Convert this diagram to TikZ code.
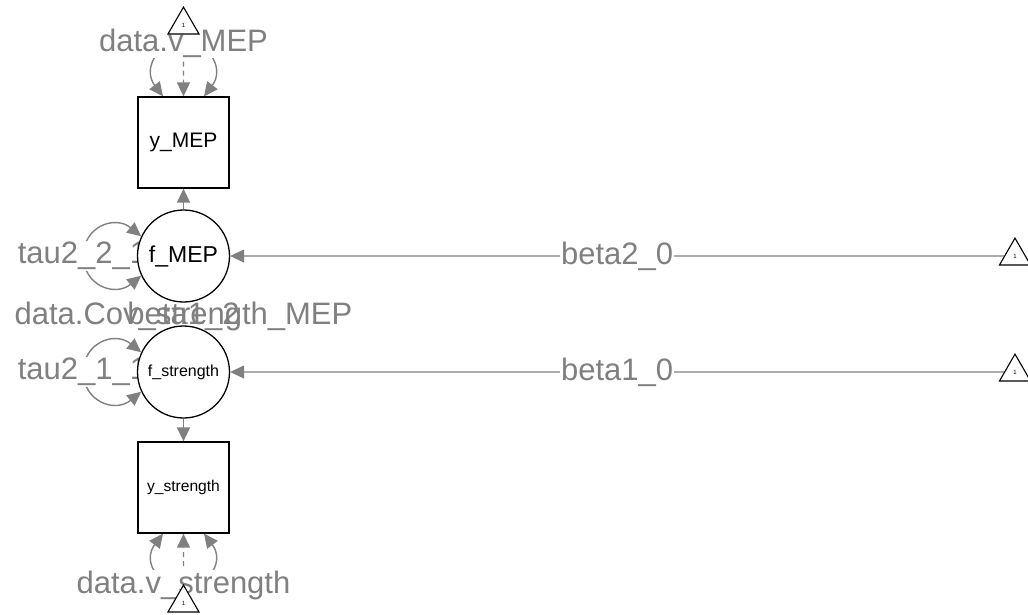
\documentclass[tikz,border=0pt]{standalone}
\usepackage{fontspec}
\setmainfont{Liberation Sans}
\usetikzlibrary{arrows.meta,shapes.geometric}
\definecolor{edgegray}{HTML}{808080}
\pgfdeclarelayer{edgelayer}
\pgfdeclarelayer{labellayer}
\pgfsetlayers{edgelayer,labellayer,main}
\begin{document}
\begin{tikzpicture}[x=1pt,y=-1pt,
  edge/.style={draw=edgegray, line width=1.4pt, -{Triangle[length=14pt,width=13pt]}},
  biedge/.style={draw=edgegray, line width=1.4pt, {Triangle[length=14pt,width=13pt]}-{Triangle[length=14pt,width=13pt]}},
  dashededge/.style={edge, dash pattern=on 5pt off 4pt},
  elabel/.style={fill=white, text=edgegray, font=\fontsize{31}{31}\selectfont, inner sep=1pt},
  manifest/.style={draw, line width=1.3pt, fill=white, minimum size=91pt, inner sep=0pt},
  latent/.style={circle, draw, line width=1.3pt, fill=white, minimum size=92pt, inner sep=0pt},
  intercept/.style={regular polygon, regular polygon sides=3, draw, line width=1.1pt, fill=white, minimum size=35.8pt, inner sep=0pt, font=\fontsize{6}{6}\selectfont}
]
\useasboundingbox (0,0) rectangle (1028,614);

% nodes
\node[manifest, font=\fontsize{21}{21}\selectfont] (yMEP) at (183.5,142.5) {y\_MEP};
\node[latent, font=\fontsize{23}{23}\selectfont] (fMEP) at (183.5,256) {f\_MEP};
\node[latent, font=\fontsize{16}{16}\selectfont] (fStr) at (183.5,372) {f\_strength};
\node[manifest, font=\fontsize{15.6}{15.6}\selectfont] (yStr) at (183.5,487.5) {y\_strength};
\node[intercept] (tTop) at (183.5,25) {1};
\node[intercept] (tBot) at (183.5,603) {1};
\node[intercept] (T2) at (1015,256) {1};
\node[intercept] (T1) at (1015,372) {1};

% edges
\begin{pgfonlayer}{edgelayer}
\draw[edge] (fMEP) -- (yMEP);
\draw[edge] (fStr) -- (yStr);
\draw[edge] (T2) -- (fMEP);
\draw[edge] (T1) -- (fStr);
\draw[dashededge] (tTop) -- (yMEP);
\draw[dashededge] (tBot) -- (yStr);
\draw[draw=edgegray, line width=1.4pt] (fMEP) -- (fStr);
\draw[biedge] ([xshift=-20.5pt]yMEP.north) .. controls (143,70) and (155,43) .. (183.5,43)
  .. controls (212,43) and (224,70) .. ([xshift=20.5pt]yMEP.north);
\draw[biedge] ([xshift=-20.5pt]yStr.south) .. controls (143,560) and (155,585) .. (183.5,585)
  .. controls (212,585) and (224,560) .. ([xshift=20.5pt]yStr.south);
\draw[biedge] (fMEP.155) .. controls (115,215) and (84,226) .. (83,256)
  .. controls (84,286) and (115,297) .. (fMEP.205);
\draw[biedge] (fStr.155) .. controls (115,331) and (84,342) .. (83,372)
  .. controls (84,402) and (115,413) .. (fStr.205);
\end{pgfonlayer}

% labels
\begin{pgfonlayer}{labellayer}
\path (T2) -- (fMEP) node[midway, elabel] (lb20) {beta2\_0};
\path (T1) -- (fStr) node[midway, elabel] (lb10) {beta1\_0};
\node[elabel] (lvMEP) at (183.5,43) {data.v\_MEP};
\node[elabel] (lvStr) at (183.5,585) {data.v\_strength};
\node[elabel] (ltau21) at (82.5,256) {tau2\_2\_1};
\node[elabel] (ltau11) at (82.5,372) {tau2\_1\_1};
\node[elabel] (lcov) at (183.5,316) {data.Cov\_strength\_MEP};
\node[elabel, fill=none] (lb12) at (183.5,316) {beta1\_2};
\end{pgfonlayer}
\end{tikzpicture}
\end{document}
